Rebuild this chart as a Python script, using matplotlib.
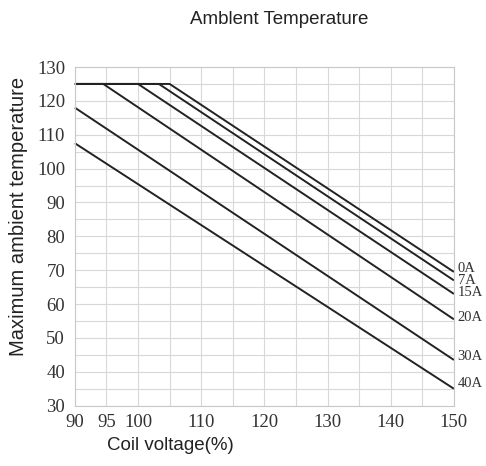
import matplotlib
matplotlib.use("Agg")
import matplotlib.pyplot as plt
from matplotlib.ticker import MultipleLocator

# Data: each curve = flat at 125 until knee voltage, then linear down to 150%
labels = ["0A", "7A", "15A", "20A", "30A", "40A"]
start_v = [90, 90, 90, 90, 90, 90]
knee_v = [105, 103.3, 100, 94.5, 90, 90]
knee_t = [125, 125, 125, 125, 118, 107.5]
end_v = [150, 150, 150, 150, 150, 150]
end_t = [69.5, 67, 63, 55.5, 43.5, 35]
label_y = [70.5, 67, 63.5, 56, 44.5, 36.5]

xticks = [90, 95, 100, 110, 120, 130, 140, 150]
yticks = list(range(30, 131, 10))

fig = plt.figure(figsize=(4.86, 4.66), dpi=100)
ax = fig.add_axes([0.154, 0.1294, 0.780, 0.7268])

serif = ["Liberation Serif", "DejaVu Serif"]
sans = ["Liberation Sans", "DejaVu Sans"]

for lab, sv, kv, kt, ev, et, ly in zip(labels, start_v, knee_v, knee_t, end_v, end_t, label_y):
    if kv > sv:
        xs = [sv, kv, ev]
        ys = [125, kt, et]
    else:
        xs = [kv, ev]
        ys = [kt, et]
    ax.plot(xs, ys, color="#222222", lw=1.4, solid_capstyle="butt", clip_on=False)
    ax.text(150.6, ly, lab, fontsize=10.5, family=serif, color="#333333",
            va="center", ha="left")

ax.set_xlim(90, 150)
ax.set_ylim(30, 130)
ax.xaxis.set_minor_locator(MultipleLocator(5))
ax.yaxis.set_minor_locator(MultipleLocator(5))
ax.set_xticks(xticks)
ax.set_yticks(yticks)
ax.grid(True, which="both", color="#d8d8d8", lw=0.8)
ax.set_axisbelow(True)
ax.tick_params(which="both", length=0)
ax.tick_params(axis="x", pad=6)
ax.tick_params(axis="y", pad=7)
for t in ax.get_xticklabels() + ax.get_yticklabels():
    t.set_family(serif)
    t.set_fontsize(13.5)
    t.set_color("#333333")
for s in ax.spines.values():
    s.set_color("#c8c8c8")
    s.set_linewidth(0.8)

fig.text(0.35, 1 - 445 / 466, "Coil voltage(%)", fontsize=13.5, family=sans,
         color="#222222", ha="center", va="center")
fig.text(19 / 486, 1 - 216 / 466, "Maximum ambient temperature", fontsize=14.5,
         family=sans, color="#222222", ha="center", va="center", rotation=90)
fig.text(0.574, 1 - 20 / 466, "Amblent Temperature", fontsize=13.5, family=sans,
         color="#222222", ha="center", va="center")

fig.savefig("out.png", dpi=100)
